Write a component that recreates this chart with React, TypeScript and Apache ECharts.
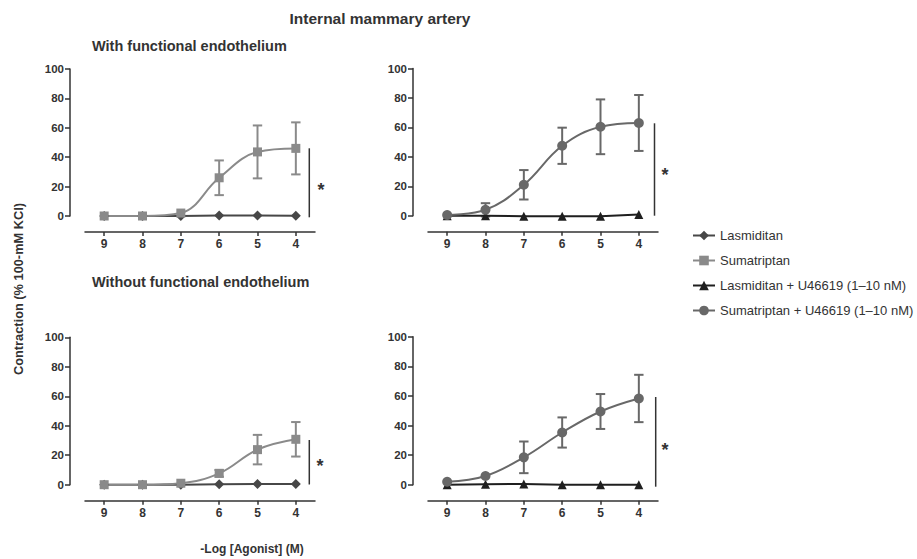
import React, { useEffect, useRef } from "react";
import * as echarts from "echarts";

// -Log [Agonist] (M)
const doses = ["9", "8", "7", "6", "5", "4"];

// With functional endothelium
const lasTop = [0, 0, 0, 0.3, 0.3, 0.2];
const sumTop = [0, 0, 2, 26, 43.6, 46];
const sumTopSem = [0, 0, 0, 11.8, 18, 17.7];
const lasUTop = [0, 0, -0.4, -0.4, -0.4, 0.8];
const sumUTop = [0.5, 4, 21, 47.5, 60.4, 63];
const sumUTopSem = [0, 4.5, 10, 12.3, 18.6, 19];

// Without functional endothelium
const lasBot = [0, 0, 0, 0.3, 0.5, 0.5];
const sumBot = [0, 0, 1, 7.7, 23.8, 30.8];
const sumBotSem = [0, 0, 0, 2.3, 10, 11.7];
const lasUBot = [0, 0.3, 0.5, 0, 0, 0];
const sumUBot = [2, 5.9, 18.5, 35.3, 49.5, 58.3];
const sumUBotSem = [0, 0, 10.7, 10.2, 11.8, 16];

const yTicks = [0, 20, 40, 60, 80, 100];

const NAMES = [
  "Lasmiditan",
  "Sumatriptan",
  "Lasmiditan + U46619 (1\u201310 nM)",
  "Sumatriptan + U46619 (1\u201310 nM)",
];
const COLORS = ["#474747", "#8a8a8a", "#1f1f1f", "#686868"];
const SYMBOLS = ["diamond", "rect", "triangle", "circle"];
const SIZES = [10, 9, 9, 10];

const FONT = "'Liberation Sans', Arial, Helvetica, sans-serif";
const AXIS = "#333333";

const grids = [
  { left: 85, top: 69, width: 230, height: 147 },
  { left: 428, top: 68.5, width: 230, height: 147.2 },
  { left: 85, top: 337.3, width: 230, height: 147.4 },
  { left: 428, top: 336.8, width: 230, height: 147.9 },
];

function lineSeries(k: number, gi: number, data: number[]) {
  const smooth = k === 1 || k === 3;
  return {
    type: "line",
    name: NAMES[k],
    xAxisIndex: gi,
    yAxisIndex: gi,
    data,
    smooth: smooth ? 0.4 : false,
    clip: false,
    symbol: SYMBOLS[k],
    symbolSize: SIZES[k],
    z: 3,
    itemStyle: { color: COLORS[k] },
    lineStyle: { color: COLORS[k], width: 2 },
  };
}

function errSeries(k: number, gi: number, mean: number[], sem: number[]) {
  const data = mean
    .map((m, i) => [i, m - sem[i], m + sem[i], sem[i]])
    .filter((d) => d[3] > 0);
  const color = COLORS[k];
  return {
    type: "custom",
    name: "err" + gi,
    xAxisIndex: gi,
    yAxisIndex: gi,
    clip: false,
    z: 2,
    data,
    encode: { x: 0, y: [1, 2] },
    renderItem: (params: any, api: any) => {
      const i = api.value(0);
      const lo = api.coord([i, api.value(1)]);
      const hi = api.coord([i, api.value(2)]);
      const w = 4.7;
      const st = { stroke: color, lineWidth: 2 };
      return {
        type: "group",
        children: [
          { type: "line", shape: { x1: lo[0], y1: lo[1], x2: hi[0], y2: hi[1] }, style: st },
          { type: "line", shape: { x1: lo[0] - w, y1: lo[1], x2: lo[0] + w, y2: lo[1] }, style: st },
          { type: "line", shape: { x1: hi[0] - w, y1: hi[1], x2: hi[0] + w, y2: hi[1] }, style: st },
        ],
      };
    },
  };
}

function sigMark(x: number, y1: number, y2: number, ax: number, ay: number) {
  return [
    {
      type: "line",
      shape: { x1: x, y1, x2: x, y2 },
      style: { stroke: AXIS, lineWidth: 1.5 },
    },
    {
      type: "text",
      x: ax,
      y: ay,
      style: {
        text: "*",
        font: `bold 18px ${FONT}`,
        fill: AXIS,
        textAlign: "center",
        textVerticalAlign: "middle",
      },
    },
  ];
}

export default function App() {
  const ref = useRef<HTMLDivElement>(null);
  useEffect(() => {
    document.body.style.margin = "0";
    const chart = echarts.init(ref.current!, null, { renderer: "svg" });
    const option: any = {
      animation: false,
      backgroundColor: "#ffffff",
      textStyle: { fontFamily: FONT },
      grid: grids,
      xAxis: grids.map((_, gi) => ({
        type: "category",
        gridIndex: gi,
        data: doses,
        offset: 16,
        boundaryGap: true,
        axisLine: { show: true, onZero: false, lineStyle: { color: AXIS, width: 1.5 } },
        axisTick: { show: true, alignWithLabel: true, length: 4, lineStyle: { color: AXIS, width: 1.5 } },
        axisLabel: { color: AXIS, fontWeight: "bold", fontSize: 12, margin: 6, fontFamily: FONT },
        splitLine: { show: false },
      })),
      yAxis: grids.map((_, gi) => ({
        type: "value",
        gridIndex: gi,
        min: yTicks[0],
        max: yTicks[yTicks.length - 1],
        interval: 20,
        offset: 15,
        axisLine: { show: true, onZero: false, lineStyle: { color: AXIS, width: 1.5 } },
        axisTick: { show: true, length: 5, lineStyle: { color: AXIS, width: 1.5 } },
        axisLabel: { color: AXIS, fontWeight: "bold", fontSize: 11.5, margin: 6, fontFamily: FONT },
        splitLine: { show: false },
      })),
      legend: {
        orient: "vertical",
        left: 687,
        top: 224,
        itemWidth: 22,
        itemHeight: 12,
        itemGap: 12,
        data: NAMES,
        textStyle: { color: AXIS, fontSize: 13, fontFamily: FONT },
      },
      series: [
        errSeries(1, 0, sumTop, sumTopSem),
        lineSeries(0, 0, lasTop),
        lineSeries(1, 0, sumTop),
        errSeries(3, 1, sumUTop, sumUTopSem),
        lineSeries(2, 1, lasUTop),
        lineSeries(3, 1, sumUTop),
        errSeries(1, 2, sumBot, sumBotSem),
        lineSeries(0, 2, lasBot),
        lineSeries(1, 2, sumBot),
        errSeries(3, 3, sumUBot, sumUBotSem),
        lineSeries(2, 3, lasUBot),
        lineSeries(3, 3, sumUBot),
      ],
      graphic: [
        {
          type: "text",
          x: 380,
          y: 18,
          style: { text: "Internal mammary artery", font: `bold 15.5px ${FONT}`, fill: AXIS, textAlign: "center", textVerticalAlign: "middle" },
        },
        {
          type: "text",
          x: 92,
          y: 46,
          style: { text: "With functional endothelium", font: `bold 14.5px ${FONT}`, fill: AXIS, textAlign: "left", textVerticalAlign: "middle" },
        },
        {
          type: "text",
          x: 92,
          y: 282,
          style: { text: "Without functional endothelium", font: `bold 14.5px ${FONT}`, fill: AXIS, textAlign: "left", textVerticalAlign: "middle" },
        },
        {
          type: "text",
          x: 18,
          y: 289,
          rotation: Math.PI / 2,
          style: { text: "Contraction (% 100-mM KCl)", font: `bold 12.8px ${FONT}`, fill: AXIS, textAlign: "center", textVerticalAlign: "middle" },
        },
        {
          type: "text",
          x: 252,
          y: 549,
          style: { text: "-Log [Agonist] (M)", font: `bold 12px ${FONT}`, fill: AXIS, textAlign: "center", textVerticalAlign: "middle" },
        },
        ...sigMark(309.3, 148.3, 217.3, 321, 190),
        ...sigMark(654.5, 123.3, 215.7, 665, 175),
        ...sigMark(309.3, 440, 484.5, 320, 466),
        ...sigMark(655.7, 397, 486.7, 665, 450),
      ],
    };
    chart.setOption(option);
    return () => chart.dispose();
  }, []);
  return <div ref={ref} style={{ width: 917, height: 559 }} />;
}
